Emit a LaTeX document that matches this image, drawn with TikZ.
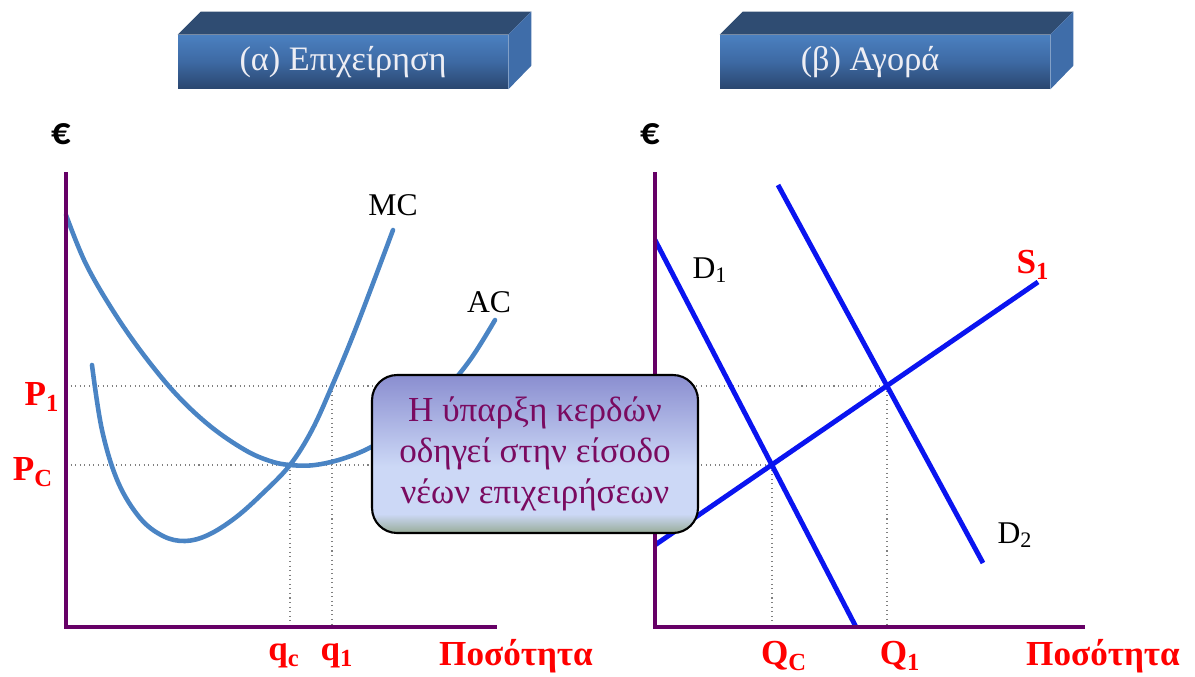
\documentclass[tikz,border=0pt]{standalone}
\usepackage{fontspec}
\setmainfont{Liberation Serif}
\newfontfamily\eurofont{Carlito}
\usetikzlibrary{positioning}

\definecolor{axispurple}{HTML}{660066}
\definecolor{costblue}{HTML}{4A84C4}
\definecolor{mktblue}{HTML}{0A14F0}
\definecolor{hdrfront}{HTML}{4B80C0}
\definecolor{hdrmid}{HTML}{3D69A3}
\definecolor{hdrdark}{HTML}{2A466E}
\definecolor{hdrtop}{HTML}{2F4C72}
\definecolor{hdrside}{HTML}{3F6DA9}
\definecolor{hdrtext}{HTML}{EEEEF4}
\definecolor{notetop}{HTML}{8A8ED0}
\definecolor{notemid}{HTML}{CCD8F6}
\definecolor{notebot}{HTML}{98AC98}
\definecolor{notetext}{HTML}{7A0A60}

% callout fill: lavender on top, light in the middle, grey-green at the foot
\pgfdeclareverticalshading{notefill}{100bp}{
    color(0bp)=(notebot); color(25bp)=(notebot); color(31bp)=(notemid);
    color(46bp)=(notemid); color(75bp)=(notetop); color(100bp)=(notetop)}

\begin{document}
\begin{tikzpicture}[
        % 1 px of the reference = 0.02 cm, y grows downwards
        x=0.02cm, y=-0.02cm,
        % header boxes
        hdrbox/.style={
            minimum width=6.6cm,
            minimum height=1.08cm,
            inner sep=0pt,
            top color=hdrfront,
            bottom color=hdrdark,
            middle color=hdrmid,
            text=hdrtext,
            font=\fontsize{19.5}{23}\selectfont
        },
        % axes and curves
        axisline/.style={draw=axispurple, line width=2.8pt},
        costcurve/.style={draw=costblue, line width=2.6pt, line cap=round},
        mktline/.style={draw=mktblue, line width=2.8pt},
        guide/.style={draw=gray, dotted, line width=0.6pt},
        % labels
        redlbl/.style={text=red, font=\fontsize{20}{24}\selectfont\bfseries},
        curvelbl/.style={font=\fontsize{18}{22}\selectfont},
        eurolbl/.style={font=\eurofont\fontsize{22}{24}\selectfont\bfseries},
        % callout
        note/.style={
            draw=black,
            line width=1.2pt,
            rounded corners=0.5cm,
            shading=notefill,
            minimum width=6.52cm,
            minimum height=3.16cm,
            align=center,
            text=notetext,
            font=\fontsize{20}{23.5}\selectfont
        }
    ]
    \useasboundingbox (0,0) rectangle (1195,676);

    % 1. axis points
    \coordinate (oA) at (66,627);
    \coordinate (yA) at (66,172);
    \coordinate (xA) at (497,627);
    \coordinate (oB) at (655,627);
    \coordinate (yB) at (655,172);
    \coordinate (xB) at (1085,627);

    % equilibrium points
    \coordinate (eqA) at (290,465);
    \coordinate (pA) at (332,386);
    \coordinate (eqC) at (772,465);
    \coordinate (eqN) at (887,386);

    % 2. dotted guides
    \draw[guide] (oA |- eqN) -- (eqN);
    \draw[guide] (oA |- eqC) -- (eqC);
    \draw[guide] (eqA) -- (eqA |- oA);
    \draw[guide] (pA) -- (pA |- oA);
    \draw[guide] (eqC) -- (eqC |- oB);
    \draw[guide] (eqN) -- (eqN |- oB);

    % 3. cost curves (firm)
    \draw[costcurve] plot[smooth, tension=0.6] coordinates {
        (66,215) (85,262) (110,306) (140,350) (175,393) (210,426)
        (245,450) (270,461) (290,465) (315,465) (345,458) (375,445)
        (410,422) (440,396) (470,360) (495,320)};
    \draw[costcurve] plot[smooth, tension=0.6] coordinates {
        (92,365) (102,430) (118,482) (140,518) (163,536) (185,541)
        (208,535) (235,518) (262,494) (290,465) (312,430) (332,386)
        (352,338) (372,286) (393,230)};

    % 4. market lines
    \coordinate (dOneA) at (655,240);
    \coordinate (dOneB) at (856,627);
    \coordinate (dTwoA) at (778,185);
    \coordinate (dTwoB) at (983,563);
    \coordinate (sOneA) at (655,545);
    \coordinate (sOneB) at (1038,282);
    \draw[mktline] (dOneA) -- (dOneB);
    \draw[mktline] (dTwoA) -- (dTwoB);
    \draw[mktline] (sOneA) -- (sOneB);

    % 5. axes
    \draw[axisline] (yA) -- (oA) -- (xA);
    \draw[axisline] (yB) -- (oB) -- (xB);

    % 6. callout
    \node[note] (msg) at (535,454) {Η ύπαρξη κερδών\\οδηγεί στην είσοδο\\νέων επιχειρήσεων};

    % 7. headers
    \node[hdrbox] (hdrA) at (343,62) {(α) Επιχείρηση};
    \fill[hdrtop] (hdrA.north west) -- ++(23,-23) -- ([shift={(23,-23)}]hdrA.north east) -- (hdrA.north east) -- cycle;
    \fill[hdrside] (hdrA.north east) -- ++(23,-23) -- ++(0,54) -- (hdrA.south east) -- cycle;

    \node[hdrbox] (hdrB) at (885,62) {\hspace*{-0.6cm}(β) Αγορά};
    \fill[hdrtop] (hdrB.north west) -- ++(23,-23) -- ([shift={(23,-23)}]hdrB.north east) -- (hdrB.north east) -- cycle;
    \fill[hdrside] (hdrB.north east) -- ++(23,-23) -- ++(0,54) -- (hdrB.south east) -- cycle;

    % 8. labels
    \node[eurolbl] (euroA) at (61,134) {€};
    \node[eurolbl] (euroB) at (650,134) {€};

    \node[redlbl] (pOne) at (42,397) {P\textsubscript{1}};
    \node[redlbl] (pC) at (33,472) {P\textsubscript{C}};
    \node[redlbl] (qC) at (284,656) {q\textsubscript{c}};
    \node[redlbl] (qOne) at (337,656) {q\textsubscript{1}};
    \node[redlbl] (qtyA) at (516,656) {Ποσότητα};
    \node[redlbl] (QC) at (784,656) {Q\textsubscript{C}};
    \node[redlbl] (QOne) at (900,656) {Q\textsubscript{1}};
    \node[redlbl] (qtyB) at (1103,656) {Ποσότητα};
    \node[redlbl] (sOne) at (1033,265) {S\textsubscript{1}};

    \node[curvelbl] (mc) at (393,205) {MC};
    \node[curvelbl] (ac) at (489,302) {AC};
    \node[curvelbl] (dOne) at (710,270) {D\textsubscript{1}};
    \node[curvelbl] (dTwo) at (1015,535) {D\textsubscript{2}};

\end{tikzpicture}
\end{document}
